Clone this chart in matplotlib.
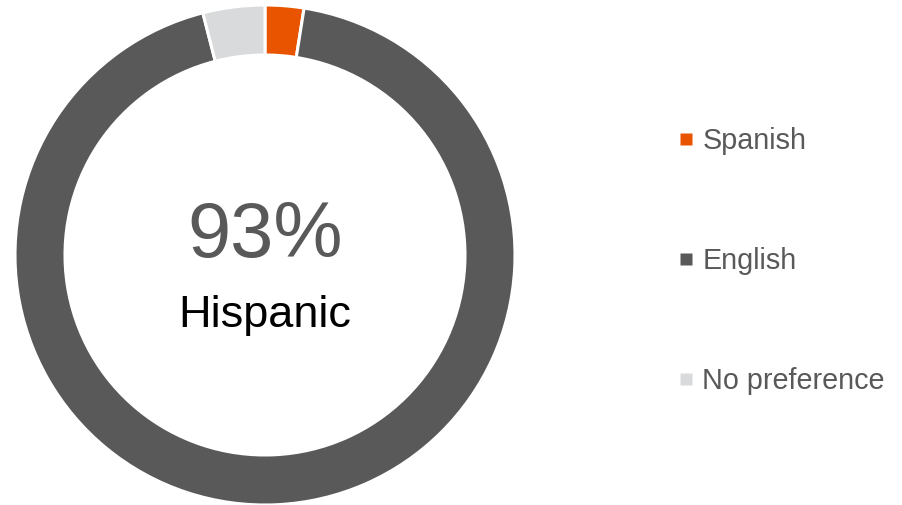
import matplotlib
matplotlib.use("Agg")
import matplotlib.pyplot as plt
from matplotlib.lines import Line2D

labels = ["Spanish", "English", "No preference"]
values = [2.5, 93.5, 4]
colors = ["#E85400", "#595959", "#D9DADC"]
center_value = "93%"
center_label = "Hispanic"

plt.rcParams['font.family'] = ['Liberation Sans', 'DejaVu Sans']

fig = plt.figure(figsize=(9.03, 5.05), dpi=100)
ax = fig.add_axes([15/903, 0/505, 500/903, 500/505])
ax.pie(values, colors=colors, startangle=90, counterclock=False, radius=1.0,
       wedgeprops=dict(width=0.2, edgecolor="white", linewidth=2.2))
ax.set_xlim(-1, 1)
ax.set_ylim(-1, 1)
ax.set_aspect("equal")
ax.axis("off")

ax.text(0, 0.074, center_value, ha="center", va="center", fontsize=56, color="#595959")
ax.text(0, -0.24, center_label, ha="center", va="center", fontsize=32.5, color="black")

handles = [Line2D([], [], marker="s", linestyle="none", markersize=8.6,
                  markerfacecolor=c, markeredgecolor="none") for c in colors]
fig.legend(handles, labels, loc="center left", bbox_to_anchor=(680/903, (505-261)/505),
           frameon=False, fontsize=20.7, labelcolor="#595959",
           handlelength=0.42, handletextpad=0.36, borderpad=0, borderaxespad=0,
           labelspacing=3.2)

fig.savefig("out.png", dpi=100)
